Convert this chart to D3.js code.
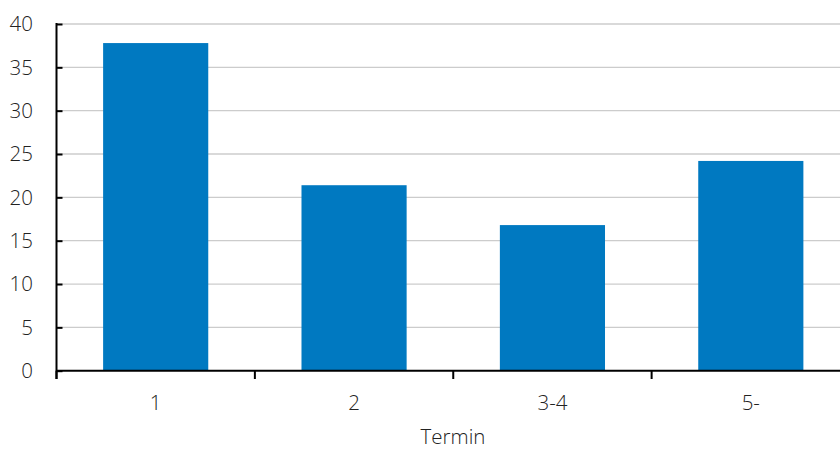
<!DOCTYPE html>
<html><head><meta charset="utf-8">
<script src="https://cdn.jsdelivr.net/npm/d3@7"></script>
<style>body{margin:0;background:#fff}svg{display:block}</style>
</head><body>
<svg id="c" width="840" height="450"></svg>
<script>
const categories = ["1", "2", "3-4", "5-"];
const values = [37.8, 21.4, 16.8, 24.2];
const yTicks = [0, 5, 10, 15, 20, 25, 30, 35, 40];
const xTitle = "Termin";

const svg = d3.select("#c");
const font = "'Open Sans', sans-serif";
const fs = 20.5;
const fw = 300;
const x = d3.scaleBand().domain(categories).range([56.5, 850]).paddingInner(0.47).paddingOuter(0.235);
const y = d3.scaleLinear().domain([0, 40]).range([370.7, 24]);

// gridlines
svg.append("g").selectAll("line").data(yTicks.filter(d => d > 0)).join("line")
  .attr("x1", 57).attr("x2", 840)
  .attr("y1", d => y(d)).attr("y2", d => y(d))
  .attr("stroke", "#cccccc").attr("stroke-width", 1.3);

// bars
svg.append("g").selectAll("rect").data(values).join("rect")
  .attr("x", (d, i) => x(categories[i]))
  .attr("width", x.bandwidth())
  .attr("y", d => y(d))
  .attr("height", d => y(0) - y(d))
  .attr("fill", "#0079C1");

// y axis
const ya = svg.append("g").attr("transform", "translate(56.5,0)")
  .call(d3.axisRight(y).tickValues(yTicks).tickSize(6).tickFormat(""));
ya.select(".domain").remove();
ya.selectAll(".tick line").attr("stroke", "#000").attr("stroke-width", 2);
svg.append("line").attr("x1", 56.5).attr("x2", 56.5).attr("y1", y(40) - 1).attr("y2", 379)
  .attr("stroke", "#000").attr("stroke-width", 2);
svg.append("g").selectAll("text").data(yTicks).join("text")
  .attr("x", 33).attr("y", d => y(d)).attr("dy", "0.35em")
  .attr("text-anchor", "end").attr("font-family", font).attr("font-size", fs).attr("font-weight", fw)
  .attr("fill", "#222").text(d => d);

// x axis
svg.append("line").attr("x1", 56.5).attr("x2", 840).attr("y1", y(0)).attr("y2", y(0))
  .attr("stroke", "#000").attr("stroke-width", 2);
const step = x.step();
const bounds = categories.map((c, i) => x(c) - x.paddingInner() * step / 2).concat([x(categories[3]) + x.bandwidth() + x.paddingInner() * step / 2]);
svg.append("g").selectAll("line").data(bounds).join("line")
  .attr("x1", d => d).attr("x2", d => d).attr("y1", y(0)).attr("y2", 379)
  .attr("stroke", "#000").attr("stroke-width", 2);
svg.append("g").selectAll("text").data(categories).join("text")
  .attr("x", d => x(d) + x.bandwidth() / 2).attr("y", 410)
  .attr("text-anchor", "middle").attr("font-family", font).attr("font-size", fs).attr("font-weight", fw)
  .attr("fill", "#222").text(d => d);
svg.append("text").attr("x", 453).attr("y", 444).attr("text-anchor", "middle")
  .attr("font-family", font).attr("font-size", fs).attr("font-weight", fw).attr("fill", "#222").text(xTitle);
</script>
</body></html>
